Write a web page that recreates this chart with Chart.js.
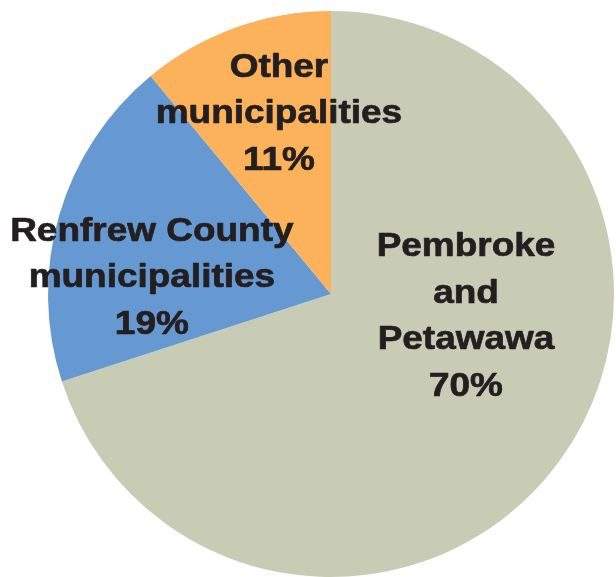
<!DOCTYPE html>
<html>
<head>
<meta charset="utf-8">
<script src="https://cdn.jsdelivr.net/npm/chart.js@4/dist/chart.umd.min.js"></script>
<style>
  html, body { margin: 0; padding: 0; background: #ffffff; }
  #wrap { width: 616px; height: 577px; position: relative; }
</style>
</head>
<body>
<div id="wrap"><canvas id="c"></canvas></div>
<script>
// ---- data ----
const categories = ["Pembroke and Petawawa", "Renfrew County municipalities", "Other municipalities"];
const shares = [70, 19, 11];
const labelLines = [
  ["Pembroke", "and", "Petawawa", "70%"],
  ["Renfrew County", "municipalities", "19%"],
  ["Other", "municipalities", "11%"]
];
const sliceColors = ["#C8CCB5", "#6699D1", "#FBB25B"];

// label anchor (centre x, first baseline y) as fractions of the radius from the pie centre
const labelAnchors = [
  [0.477, -0.134],
  [-0.633, -0.188],
  [-0.184, -0.767]
];

const labelPlugin = {
  id: 'sliceLabels',
  afterDatasetsDraw(chart) {
    const ctx = chart.ctx;
    const meta = chart.getDatasetMeta(0);
    ctx.save();
    ctx.fillStyle = '#231F20';
    ctx.strokeStyle = '#231F20';
    ctx.lineWidth = 0.7;
    ctx.lineJoin = 'round';
    ctx.font = 'bold 33px "Liberation Sans", Arial, sans-serif';
    ctx.textAlign = 'center';
    ctx.textBaseline = 'alphabetic';
    const lineH = 46.5;
    const sx = 1.12;
    meta.data.forEach((arc, i) => {
      const r = arc.outerRadius;
      const cx = arc.x + labelAnchors[i][0] * r;
      const cy = arc.y + labelAnchors[i][1] * r;
      labelLines[i].forEach((t, j) => {
        ctx.save();
        ctx.translate(cx, cy + j * lineH);
        ctx.scale(sx, 1);
        ctx.fillText(t, 0, 0);
        ctx.strokeText(t, 0, 0);
        ctx.restore();
      });
    });
    ctx.restore();
  }
};

new Chart(document.getElementById('c'), {
  type: 'pie',
  data: {
    labels: categories,
    datasets: [{
      data: shares,
      backgroundColor: sliceColors,
      borderWidth: 0
    }]
  },
  options: {
    responsive: true,
    maintainAspectRatio: false,
    animation: false,
    layout: { padding: { top: 11, bottom: 0, left: 48, right: 2 } },
    plugins: {
      legend: { display: false },
      tooltip: { enabled: false }
    }
  },
  plugins: [labelPlugin]
});
</script>
</body>
</html>
